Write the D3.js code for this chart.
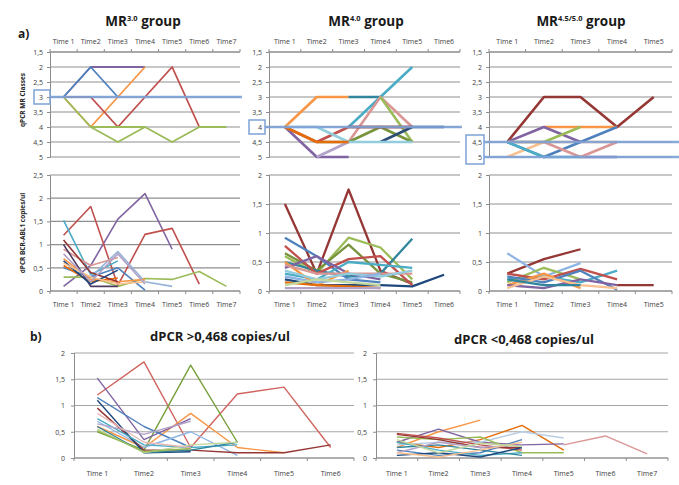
<!DOCTYPE html>
<html>
<head>
<meta charset="utf-8">
<script src="https://cdn.jsdelivr.net/npm/d3@7"></script>
<style>
  body { margin: 0; background: #fff; }
  text { font-family: "Open Sans", "Liberation Sans", sans-serif; }
</style>
</head>
<body>
<div id="chart"></div>
<script>
// ---- data ----
const times = ["Time 1", "Time2", "Time3", "Time4", "Time5", "Time6", "Time7"];
const mrTicks = [1.5, 2, 2.5, 3, 3.5, 4, 4.5, 5];
const dpcrTicksWide = [0, 0.5, 1, 1.5, 2, 2.5];
const dpcrTicks = [0, 0.5, 1, 1.5, 2];

// a) MR3.0 group
const mr30Classes = [
    [3, 2, 2, 2, null, null, null],
    [3, 2, 3, null, null, null, null],
    [3, 4, 3, 2, null, null, null],
    [3, 3, 4, 3, 2, 4, null],
    [3, 4, 4.5, 4, 4.5, 4, 4],
    [null, 4, 4, 4, null, null, null]
];
const mr30ClassColors = ["#8064A2", "#4F81BD", "#F79646", "#C0504D", "#9BBB59", "#9BBB59"];
const mr30Dpcr = [
    [0.1, 0.55, 1.55, 2.1, 0.9, null, null],
    [1.2, 1.82, 0.12, 1.22, 1.35, 0.15, null],
    [1.52, 0.35, 0.65, null, null, null, null],
    [0.3, 0.3, 0.1, 0.27, 0.25, 0.42, 0.1],
    [null, 0.3, 0.85, 0.2, 0.1, null, null],
    [0.9, 0.55, 0.72, null, null, null, null],
    [0.5, 0.3, 0.5, 0.02, null, null, null],
    [0.7, 0.25, 0.2, 0.25, null, null, null],
    [0.55, 0.2, 0.28, null, null, null, null],
    [1.0, 0.1, 0.1, null, null, null, null],
    [1.1, 0.4, 0.2, null, null, null, null],
    [0.65, 0.15, 0.45, null, null, null, null],
    [0.6, 0.3, 0.15, 0.2, null, null, null],
    [0.8, 0.2, 0.8, 0.15, null, null, null]
];
const mr30DpcrColors = ["#8064A2", "#C0504D", "#4BACC6", "#9BBB59", "#95B3D7", "#D99694", "#4F81BD",
    "#F79646", "#E46C0A", "#4D3B62", "#943634", "#1F497D", "#FAC08F", "#B3A2C7"];

// a) MR4.0 group
const mr40Classes = [
    [4, 3, 3, null, null, null],
    [null, null, 3, 3, null, null],
    [null, null, 4, 3, 2, null],
    [null, null, 4.5, 3, 4, null],
    [null, null, null, 3, 4.5, null],
    [null, 4.5, 4.5, 4, 4.5, null],
    [4, 4.5, 4, 4, 4, null],
    [null, null, 4, 4, 4, null],
    [4, 5, 5, null, null, null],
    [null, 5, 4.5, null, null, null],
    [null, null, null, 4.5, 4, 4],
    [4, 4, 4.5, 4.5, 4.5, null],
    [4, 4.5, 4.5, null, null, null]
];
const mr40ClassColors = ["#F79646", "#31859C", "#4BACC6", "#D99694", "#9BBB59", "#77933C", "#C0504D",
    "#953735", "#8064A2", "#B3A2C7", "#2C4D75", "#93CDDD", "#E46C0A"];
const mr40Dpcr = [
    [1.5, 0.3, 1.75, 0.35, 0.12, null],
    [0.6, 0.3, 0.92, 0.75, 0.2, null],
    [0.65, 0.35, 0.8, 0.3, 0.15, null],
    [0.5, 0.35, 0.25, 0.3, 0.9, null],
    [0.92, 0.6, 0.2, 0.15, null, null],
    [0.2, 0.1, 0.1, 0.1, 0.08, 0.28],
    [0.78, 0.3, 0.55, 0.6, 0.1, null],
    [0.3, 0.2, 0.5, 0.45, 0.4, null],
    [0.4, 0.6, 0.3, 0.2, null, null],
    [0.5, 0.1, 0.35, null, null, null],
    [0.45, 0.3, 0.3, 0.3, 0.3, null],
    [0.35, 0.2, 0.3, 0.25, 0.35, null],
    [0.15, 0.1, 0.08, 0.05, null, null],
    [0.05, 0.05, 0.05, 0.05, null, null],
    [0.25, 0.15, 0.2, 0.3, null, null],
    [0.1, 0.2, 0.15, 0.1, null, null]
];
const mr40DpcrColors = ["#953735", "#9BBB59", "#77933C", "#31859C", "#4F81BD", "#1F497D", "#C0504D",
    "#4BACC6", "#8064A2", "#F79646", "#D99694", "#93CDDD", "#E46C0A", "#B3A2C7", "#8EB4E3", "#C3D69B"];

// a) MR4.5/5.0 group
const mr45Classes = [
    [4.5, 3, 3, 4, 3],
    [null, 4, 4, 4, null],
    [5, 4.5, 4.5, 4.5, null],
    [4.5, 4, 4.5, null, null],
    [null, null, 5, 5, null],
    [4.5, 4.5, 4, null, null],
    [4.5, 5, 4.5, 4, null],
    [4.5, 4.5, 5, 4.5, null],
    [4.5, 5, 5, null, null]
];
const mr45ClassColors = ["#953735", "#F79646", "#FAC08F", "#8064A2", "#8064A2", "#9BBB59", "#4F81BD",
    "#D99694", "#4BACC6"];
const mr45Dpcr = [
    [0.3, 0.55, 0.72, null, null],
    [null, null, null, 0.1, 0.1],
    [0.65, 0.25, 0.48, null, null],
    [0.2, 0.25, 0.15, 0.35, null],
    [0.15, 0.4, 0.2, null, null],
    [0.3, 0.2, 0.38, 0.2, null],
    [0.1, 0.3, 0.05, null, null],
    [0.25, 0.15, 0.35, 0.02, null],
    [0.1, 0.05, 0.2, 0.1, null],
    [0.05, 0.25, 0.1, 0.05, null],
    [0.2, 0.1, 0.1, null, null]
];
const mr45DpcrColors = ["#953735", "#953735", "#8EB4E3", "#4BACC6", "#9BBB59", "#C0504D", "#F79646",
    "#4F81BD", "#8064A2", "#FAC08F", "#31859C"];

// b) split by dPCR threshold
const dpcrHigh = [
    [1.2, 1.83, 0.2, 1.22, 1.35, 0.2],
    [0.5, 0.15, 1.77, 0.3, null, null],
    [0.6, 0.2, 0.85, 0.2, 0.1, null],
    [1.52, 0.35, 0.75, null, null, null],
    [1.15, 0.6, 0.2, null, null, null],
    [0.7, 0.2, 0.5, 0.05, null, null],
    [0.95, 0.15, 0.15, 0.1, 0.1, 0.25],
    [1.1, 0.1, 0.12, null, null, null],
    [0.75, 0.25, 0.2, 0.25, null, null],
    [0.65, 0.45, 0.7, null, null, null],
    [0.6, 0.1, 0.15, 0.3, null, null],
    [0.55, 0.1, 0.25, 0.3, null, null],
    [0.85, 0.3, 0.2, null, null, null],
    [0.52, 0.12, 0.18, null, null, null]
];
const dpcrHighColors = ["#D0645F", "#77A03C", "#F79646", "#8064A2", "#4F81BD", "#8EB4E3", "#953735",
    "#1F497D", "#4BACC6", "#B3A2C7", "#31859C", "#C3D69B", "#E6B9B8", "#9BBB59"];
const dpcrLow = [
    [0.2, 0.5, 0.72, null, null, null, null],
    [0.3, 0.2, 0.35, 0.62, 0.15, null, null],
    [null, null, null, null, 0.25, 0.42, 0.08],
    [0.3, 0.55, 0.3, 0.25, 0.27, null, null],
    [0.25, 0.3, 0.3, 0.5, 0.38, null, null],
    [0.4, 0.35, 0.4, 0.1, 0.1, null, null],
    [0.47, 0.38, 0.25, 0.15, null, null, null],
    [0.45, 0.35, 0.2, 0.2, null, null, null],
    [0.15, 0.05, 0.1, 0.35, null, null, null],
    [0.3, 0.15, 0.05, 0.1, null, null, null],
    [0.2, 0.25, 0.15, 0.05, null, null, null],
    [0.1, 0.3, 0.2, 0.25, null, null, null],
    [0.05, 0.1, 0.02, 0.2, null, null, null],
    [0.1, 0.02, 0.15, 0.3, null, null, null],
    [0.35, 0.1, 0.28, 0.22, null, null, null]
];
const dpcrLowColors = ["#F79646", "#E46C0A", "#DA9694", "#8064A2", "#B9CDE5", "#9BBB59", "#C0504D",
    "#953735", "#4F81BD", "#4BACC6", "#31859C", "#B3A2C7", "#1F497D", "#FAC08F", "#C3D69B"];

// ---- drawing ----
const W = 679, H = 485;
const svg = d3.select("#chart").append("svg")
    .attr("width", W).attr("height", H)
    .style("background", "#fff");

const commaFmt = d3.formatLocale({ decimal: ",", thousands: ".", grouping: [3], currency: ["", ""] })
    .format(".1~f");

function drawPanel(p) {
    const cats = times.slice(0, p.nTimes);
    const x = d3.scaleBand().domain(cats).range([p.x0, p.x1]);
    const y = d3.scaleLinear().domain(p.domain).range([p.yTop, p.yBottom]);
    const g = svg.append("g");

    // gridlines
    g.selectAll(".grid").data(p.ticks).enter().append("line")
        .attr("x1", p.x0).attr("x2", p.x1)
        .attr("y1", d => y(d)).attr("y2", d => y(d))
        .attr("stroke", p.gridColor).attr("stroke-width", 1.2);

    // y axis
    const yAxis = g.append("g")
        .attr("transform", "translate(" + p.x0 + ",0)")
        .call(d3.axisLeft(y).tickValues(p.ticks).tickSize(3).tickPadding(p.tickPad).tickFormat(commaFmt));
    yAxis.select(".domain").attr("stroke", "#8c8c8c");
    yAxis.selectAll(".tick line").attr("stroke", "#8c8c8c");
    yAxis.selectAll("text").attr("fill", "#404040").style("font-size", p.fontSize + "px");

    // x axis: band edge ticks + labels
    const axisY = p.xTop ? p.yTop : p.yBottom;
    const edges = cats.map(c => x(c)).concat([p.x1]);
    g.selectAll(".xt").data(edges).enter().append("line")
        .attr("x1", d => d).attr("x2", d => d)
        .attr("y1", axisY).attr("y2", p.xTop ? axisY - 3 : axisY + 3)
        .attr("stroke", "#8c8c8c");
    g.append("line").attr("x1", p.x0).attr("x2", p.x1)
        .attr("y1", axisY).attr("y2", axisY).attr("stroke", "#8c8c8c").attr("stroke-width", 1.2);
    g.selectAll(".xl").data(cats).enter().append("text")
        .attr("x", d => x(d) + x.bandwidth() / 2)
        .attr("y", p.labelY)
        .attr("text-anchor", "middle")
        .attr("fill", "#404040")
        .style("font-size", p.fontSize + "px")
        .text(d => d);

    // series
    const line = d3.line()
        .defined(d => d != null)
        .x((d, i) => x(cats[i]) + x.bandwidth() / 2)
        .y(d => y(d));
    g.selectAll(".series").data(p.values).enter().append("path")
        .attr("d", line)
        .attr("fill", "none")
        .attr("stroke", (d, i) => p.colors[i])
        .attr("stroke-width", p.lineWidth)
        .attr("stroke-linejoin", "round");

    // highlight of the group's class rows, on top of the series
    if (p.highlight) {
        const vs = p.highlight.values;
        vs.forEach(v => {
            g.append("line")
                .attr("x1", p.highlight.bx1).attr("x2", p.highlight.lineEnd)
                .attr("y1", y(v)).attr("y2", y(v))
                .attr("stroke", "#7DA2D6").attr("stroke-width", 2.5)
                .attr("opacity", 0.9);
        });
        g.append("rect")
            .attr("x", p.highlight.bx0)
            .attr("y", y(d3.min(vs)) - 7)
            .attr("width", p.highlight.bx1 - p.highlight.bx0)
            .attr("height", y(d3.max(vs)) - y(d3.min(vs)) + 14)
            .attr("fill", "none").attr("stroke", "#7DA2D6").attr("stroke-width", 1.5);
    }
}

const topCfg = { domain: [1.5, 5], ticks: mrTicks, yTop: 52, yBottom: 157, xTop: true, labelY: 44,
    gridColor: "#8f8f8f", fontSize: 7, tickPad: 4 };
const midCfg = { yBottom: 291, yTop: 175, xTop: false, labelY: 307, gridColor: "#8f8f8f", fontSize: 7, tickPad: 4 };

drawPanel(Object.assign({}, topCfg, { x0: 50, x1: 240, nTimes: 7, values: mr30Classes, colors: mr30ClassColors,
    lineWidth: 1.8, highlight: { values: [3], bx0: 34, bx1: 50, lineEnd: 242 } }));
drawPanel(Object.assign({}, midCfg, { x0: 50, x1: 240, nTimes: 7, domain: [2.5, 0], ticks: dpcrTicksWide,
    values: mr30Dpcr, colors: mr30DpcrColors, lineWidth: 1.6 }));
drawPanel(Object.assign({}, topCfg, { x0: 269, x1: 460, nTimes: 6, values: mr40Classes, colors: mr40ClassColors,
    lineWidth: 2.6, highlight: { values: [4], bx0: 249, bx1: 265, lineEnd: 462 } }));
drawPanel(Object.assign({}, midCfg, { x0: 269, x1: 460, nTimes: 6, domain: [2, 0], ticks: dpcrTicks,
    values: mr40Dpcr, colors: mr40DpcrColors, lineWidth: 2.3 }));
drawPanel(Object.assign({}, topCfg, { x0: 489, x1: 672, nTimes: 5, values: mr45Classes, colors: mr45ClassColors,
    lineWidth: 2.6, highlight: { values: [4.5, 5], bx0: 466, bx1: 484, lineEnd: 679 } }));
drawPanel(Object.assign({}, midCfg, { x0: 489, x1: 672, nTimes: 5, domain: [2, 0], ticks: dpcrTicks,
    values: mr45Dpcr, colors: mr45DpcrColors, lineWidth: 2.3 }));

const bCfg = { yTop: 353, yBottom: 458, xTop: false, labelY: 476, gridColor: "#a6a6a6", fontSize: 7,
    tickPad: 6, domain: [2, 0], ticks: dpcrTicks, lineWidth: 1.4 };
drawPanel(Object.assign({}, bCfg, { x0: 74, x1: 354, nTimes: 6, values: dpcrHigh, colors: dpcrHighColors }));
drawPanel(Object.assign({}, bCfg, { x0: 376, x1: 668, nTimes: 7, values: dpcrLow, colors: dpcrLowColors }));

// ---- titles and labels ----
function supTitle(cx, cy, sup) {
    const t = svg.append("text").attr("x", cx).attr("y", cy).attr("text-anchor", "middle")
        .style("font-size", "13.5px").style("font-weight", "bold").attr("fill", "#1a1a1a");
    t.append("tspan").text("MR");
    t.append("tspan").attr("dy", -5).style("font-size", "7.5px").text(sup);
    t.append("tspan").attr("dy", 5).text(" group");
}
supTitle(143, 26, "3.0");
supTitle(366, 26, "4.0");
supTitle(581, 26, "4.5/5.0");

svg.append("text").attr("x", 18).attr("y", 38).text("a)")
    .style("font-size", "12px").style("font-weight", "bold").attr("fill", "#1a1a1a");
svg.append("text").attr("x", 30).attr("y", 341).text("b)")
    .style("font-size", "12px").style("font-weight", "bold").attr("fill", "#1a1a1a");

svg.append("text").attr("x", 220).attr("y", 341).attr("text-anchor", "middle")
    .style("font-size", "13px").style("font-weight", "bold").attr("fill", "#1a1a1a")
    .text("dPCR >0,468 copies/ul");
svg.append("text").attr("x", 524).attr("y", 344).attr("text-anchor", "middle")
    .style("font-size", "13px").style("font-weight", "bold").attr("fill", "#1a1a1a")
    .text("dPCR <0,468 copies/ul");

svg.append("text").attr("transform", "translate(25,100) rotate(-90)").attr("text-anchor", "middle")
    .style("font-size", "6.5px").style("font-weight", "bold").attr("fill", "#262626")
    .text("qPCR MR Classes");
svg.append("text").attr("transform", "translate(25,233) rotate(-90)").attr("text-anchor", "middle")
    .style("font-size", "6.5px").style("font-weight", "bold").attr("fill", "#262626")
    .text("dPCR BCR-ABL1 copies/ul");
</script>
</body>
</html>
